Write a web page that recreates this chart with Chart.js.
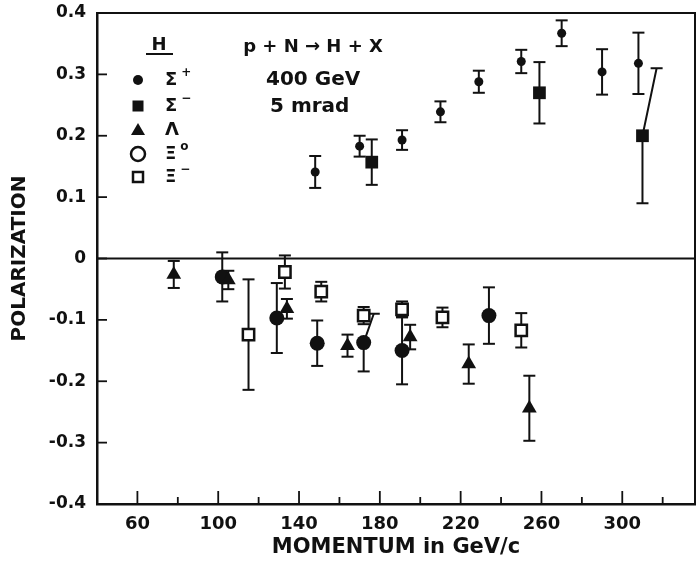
<!DOCTYPE html>
<html>
<head>
<meta charset="utf-8">
<script src="https://cdn.jsdelivr.net/npm/chart.js@4.4.1/dist/chart.umd.min.js"></script>
<style>
  html, body { margin: 0; padding: 0; background: #fff; overflow: hidden; }
  #wrap { width: 696px; height: 568px; position: relative; }
  canvas { display: block; }
</style>
</head>
<body>
<div id="wrap"><canvas id="chart"></canvas></div>
<script>
// Hyperon polarization vs. momentum: p + N -> H + X, 400 GeV, 5 mrad
// momentum (GeV/c), polarization, error (±)
const sigmaPlusP   = [148, 170, 191, 210, 229, 250, 270, 290, 308];
const sigmaPlusPol = [0.141, 0.183, 0.193, 0.239, 0.288, 0.321, 0.367, 0.304, 0.318];
const sigmaPlusErr = [0.026, 0.017, 0.016, 0.017, 0.018, 0.019, 0.021, 0.037, 0.050];

const sigmaMinusP   = [176, 259, 310];
const sigmaMinusPol = [0.157, 0.270, 0.200];
const sigmaMinusErr = [0.037, 0.050, 0.110];
// upper bar end shifted in momentum so it clears a neighbouring point
const sigmaMinusCapP = [null, null, 317];

const lambdaP   = [78, 105, 134, 164, 195, 224, 254];
const lambdaPol = [-0.026, -0.035, -0.082, -0.142, -0.128, -0.172, -0.244];
const lambdaErr = [0.022, 0.015, 0.016, 0.018, 0.020, 0.032, 0.053];

const xi0P   = [102, 129, 149, 172, 191, 234];
const xi0Pol = [-0.030, -0.097, -0.138, -0.137, -0.150, -0.093];
const xi0Err = [0.040, 0.057, 0.037, 0.047, 0.055, 0.046];
const xi0CapP = [null, null, null, 177, null, null];

const xiMinusP   = [115, 133, 151, 172, 191, 211, 250];
const xiMinusPol = [-0.124, -0.022, -0.054, -0.093, -0.083, -0.096, -0.117];
const xiMinusErr = [0.090, 0.027, 0.016, 0.014, 0.013, 0.016, 0.028];

// axis ticks
const xTickLabels = ['60', '100', '140', '180', '220', '260', '300'];
const xMinorTicks = [80, 120, 160, 200, 240, 280, 320];
const yTickLabels = ['0.4', '0.3', '0.2', '0.1', '0', '-0.1', '-0.2', '-0.3', '-0.4'];

const INK = '#111';
const FONT = '"DejaVu Sans", "Liberation Sans", sans-serif';

function points(ps, pols, errs, caps) {
  return ps.map((p, i) => ({ x: p, y: pols[i], err: errs[i], capX: caps ? caps[i] : null }));
}

// error bars, zero line, frame, inward tick marks, legend and run conditions
const frameAndBars = {
  id: 'frameAndBars',
  beforeDatasetsDraw(chart) {
    const { ctx, chartArea: a, scales: { x, y } } = chart;
    ctx.save();
    ctx.strokeStyle = INK;
    ctx.lineCap = 'butt';

    // top and right frame
    ctx.lineWidth = 2;
    ctx.beginPath();
    ctx.moveTo(a.left, a.top); ctx.lineTo(a.right, a.top); ctx.lineTo(a.right, a.bottom);
    ctx.stroke();

    // zero line
    const y0 = y.getPixelForValue(0);
    ctx.lineWidth = 2.2;
    ctx.beginPath(); ctx.moveTo(a.left, y0); ctx.lineTo(a.right, y0); ctx.stroke();

    // y ticks (inward)
    ctx.lineWidth = 1.8;
    yTickLabels.forEach(t => {
      const py = y.getPixelForValue(Number(t));
      ctx.beginPath(); ctx.moveTo(a.left, py); ctx.lineTo(a.left + 10, py); ctx.stroke();
    });
    // x ticks (inward)
    xTickLabels.forEach(t => {
      const px = x.getPixelForValue(Number(t));
      ctx.beginPath(); ctx.moveTo(px, a.bottom); ctx.lineTo(px, a.bottom - 13); ctx.stroke();
    });
    xMinorTicks.forEach(v => {
      const px = x.getPixelForValue(v);
      ctx.beginPath(); ctx.moveTo(px, a.bottom); ctx.lineTo(px, a.bottom - 7); ctx.stroke();
    });

    // error bars
    ctx.lineWidth = 2;
    const cap = (cx, cy) => {
      ctx.beginPath(); ctx.moveTo(cx - 6, cy); ctx.lineTo(cx + 6, cy); ctx.stroke();
    };
    chart.data.datasets.forEach(ds => {
      ds.data.forEach(p => {
        const px = x.getPixelForValue(p.x);
        const py = y.getPixelForValue(p.y);
        const lo = y.getPixelForValue(p.y - p.err);
        const hi = y.getPixelForValue(p.y + p.err);
        const hx = p.capX != null ? x.getPixelForValue(p.capX) : px;
        ctx.beginPath();
        ctx.moveTo(px, lo); ctx.lineTo(px, py); ctx.lineTo(hx, hi);
        ctx.stroke();
        cap(px, lo); cap(hx, hi);
      });
    });
    ctx.restore();
  },
  afterDraw(chart) {
    const { ctx } = chart;
    ctx.save();
    ctx.fillStyle = INK;
    ctx.strokeStyle = INK;
    ctx.textBaseline = 'middle';

    // reaction and beam conditions
    ctx.font = `bold 18px ${FONT}`;
    ctx.textAlign = 'center';
    ctx.fillText('p + N \u2192 H + X', 313, 47);
    ctx.textAlign = 'left';
    ctx.font = `bold 20px ${FONT}`;
    ctx.fillText('400 GeV', 266, 80);
    ctx.fillText('5 mrad', 270, 107);

    // legend header
    ctx.font = `bold 18px ${FONT}`;
    ctx.textAlign = 'center';
    ctx.fillText('H', 159, 45);
    ctx.lineWidth = 2;
    ctx.beginPath(); ctx.moveTo(146, 54); ctx.lineTo(173, 54); ctx.stroke();

    const sx = 138, lx = 165;
    const rows = [
      { y: 80, sym: 'Σ', sup: '+', mark: 'dot' },
      { y: 106, sym: 'Σ', sup: '\u2212', mark: 'square' },
      { y: 130, sym: 'Λ', sup: '', mark: 'tri' },
      { y: 154, sym: 'Ξ', sup: 'o', mark: 'ring' },
      { y: 177, sym: 'Ξ', sup: '\u2212', mark: 'box' }
    ];
    rows.forEach(r => {
      ctx.lineWidth = 2.5;
      ctx.beginPath();
      if (r.mark === 'dot') { ctx.arc(sx, r.y, 5, 0, Math.PI * 2); ctx.fill(); }
      else if (r.mark === 'square') { ctx.fillRect(sx - 5.5, r.y - 5.5, 11, 11); }
      else if (r.mark === 'tri') {
        ctx.moveTo(sx, r.y - 7); ctx.lineTo(sx + 7, r.y + 5); ctx.lineTo(sx - 7, r.y + 5);
        ctx.closePath(); ctx.fill();
      }
      else if (r.mark === 'ring') { ctx.arc(sx, r.y, 7, 0, Math.PI * 2); ctx.stroke(); }
      else { ctx.strokeRect(sx - 5, r.y - 5, 10, 10); }

      ctx.textAlign = 'left';
      ctx.font = `bold 18px ${FONT}`;
      ctx.fillText(r.sym, lx, r.y);
      const w = ctx.measureText(r.sym).width;
      if (r.sup) {
        ctx.font = `bold 12px ${FONT}`;
        ctx.fillText(r.sup, lx + w + 4, r.y - 7);
      }
    });
    ctx.restore();
  }
};

const datasets = [
  { label: 'Σ+', data: points(sigmaPlusP, sigmaPlusPol, sigmaPlusErr),
    pointStyle: 'circle', pointRadius: 4.5, backgroundColor: INK, borderColor: INK, borderWidth: 0 },
  { label: 'Σ−', data: points(sigmaMinusP, sigmaMinusPol, sigmaMinusErr, sigmaMinusCapP),
    pointStyle: 'rect', pointRadius: 9, backgroundColor: INK, borderColor: INK, borderWidth: 0 },
  { label: 'Λ', data: points(lambdaP, lambdaPol, lambdaErr),
    pointStyle: 'triangle', pointRadius: 8.5, backgroundColor: INK, borderColor: INK, borderWidth: 0 },
  { label: 'Ξ0', data: points(xi0P, xi0Pol, xi0Err, xi0CapP),
    pointStyle: 'circle', pointRadius: 7.5, backgroundColor: INK, borderColor: INK, borderWidth: 0 },
  { label: 'Ξ−', data: points(xiMinusP, xiMinusPol, xiMinusErr),
    pointStyle: 'rect', pointRadius: 8, backgroundColor: '#fff', borderColor: INK, borderWidth: 2.5 }
];

new Chart(document.getElementById('chart'), {
  type: 'scatter',
  data: { datasets },
  plugins: [frameAndBars],
  options: {
    responsive: true,
    maintainAspectRatio: false,
    animation: false,
    devicePixelRatio: 1,
    layout: { autoPadding: false, padding: { top: 13, right: 1, left: 0, bottom: 0 } },
    plugins: { legend: { display: false }, tooltip: { enabled: false } },
    elements: { point: { hoverRadius: 0 } },
    scales: {
      x: {
        type: 'linear', min: 40, max: 336,
        // tick marks are drawn inward by the plugin; tickLength only spaces the labels
        grid: { display: false, drawTicks: true, tickLength: 10 },
        border: { display: true, color: INK, width: 2.5 },
        ticks: {
          stepSize: 20, autoSkip: false, maxRotation: 0, padding: 0, color: INK,
          font: { family: FONT, size: 18, weight: 'bold' },
          callback: v => xTickLabels.includes(String(v)) ? String(v) : ''
        },
        title: { display: true, text: 'MOMENTUM in GeV/c', color: INK,
          font: { family: FONT, size: 21, weight: 'bold' }, padding: { top: 0, bottom: 8 } },
        afterFit: s => { s.height = 64; }
      },
      y: {
        type: 'linear', min: -0.4, max: 0.4,
        grid: { display: false, drawTicks: true, tickLength: 11 },
        border: { display: true, color: INK, width: 2.5 },
        ticks: {
          stepSize: 0.1, autoSkip: false, padding: 0, color: INK,
          font: { family: FONT, size: 17, weight: 'bold' },
          callback: v => {
            const t = yTickLabels.find(l => Math.abs(Number(l) - v) < 1e-6);
            return t === undefined ? '' : t;
          }
        },
        title: { display: true, text: 'POLARIZATION', color: INK,
          font: { family: FONT, size: 20, weight: 'bold' }, padding: { top: 8, bottom: 0 } },
        afterFit: s => { s.width = 97; }
      }
    }
  }
});
</script>
</body>
</html>
